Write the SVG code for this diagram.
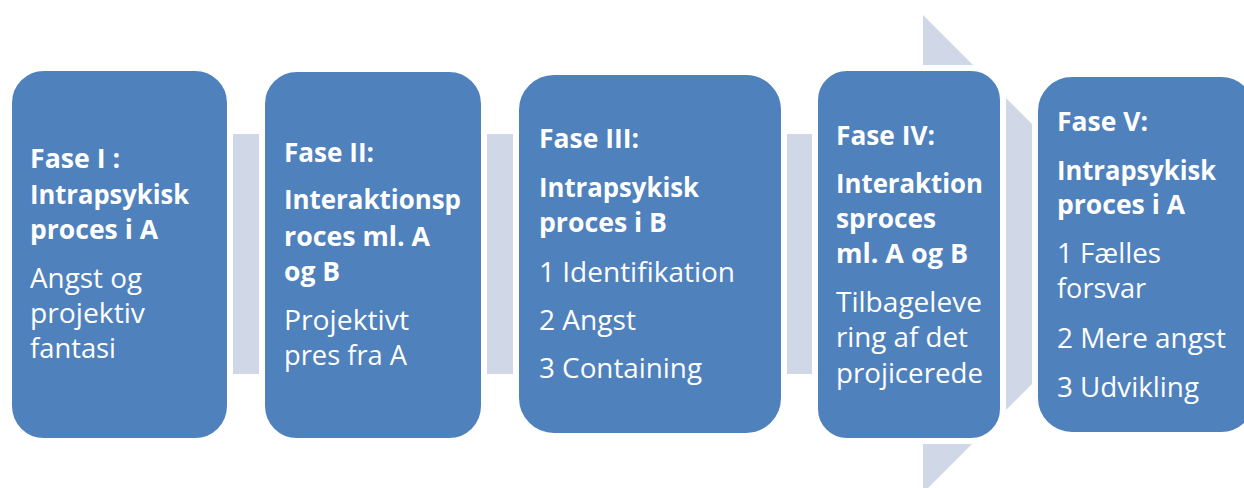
<svg xmlns="http://www.w3.org/2000/svg" width="1244" height="488" viewBox="0 0 1244 488">
<style>
.box{fill:#4F81BD;stroke:#FFFFFF;stroke-width:6}
.arrow{fill:#D0D8E8}
text{fill:#FFFFFF;font-family:"Open Sans","Liberation Sans",sans-serif}
.b{font-weight:bold;font-size:26px}
.r{font-weight:normal;font-size:28px}
</style>
<rect width="1244" height="488" fill="#FFFFFF"/>
<g id="connectors">
<polygon class="arrow" points="20,134 923,134 923,15 1162,254 923,493 923,374 20,374"/>
</g>
<g id="node1">
<rect class="box" x="9" y="68" width="221" height="373" rx="35"/>
<text class="b" x="30" y="168" textLength="90" lengthAdjust="spacingAndGlyphs">Fase I :</text>
<text class="b" x="30" y="204" textLength="159" lengthAdjust="spacingAndGlyphs">Intrapsykisk</text>
<text class="b" x="30" y="239" textLength="128" lengthAdjust="spacingAndGlyphs">proces i A</text>
<text class="r" x="30" y="288" textLength="112" lengthAdjust="spacingAndGlyphs">Angst og</text>
<text class="r" x="30" y="323" textLength="115" lengthAdjust="spacingAndGlyphs">projektiv</text>
<text class="r" x="30" y="358" textLength="86" lengthAdjust="spacingAndGlyphs">fantasi</text>
</g>
<g id="node2">
<rect class="box" x="262" y="69" width="222" height="372" rx="35"/>
<text class="b" x="284" y="162" textLength="90" lengthAdjust="spacingAndGlyphs">Fase II:</text>
<text class="b" x="284" y="209" textLength="177" lengthAdjust="spacingAndGlyphs">Interaktionsp</text>
<text class="b" x="284" y="246" textLength="146" lengthAdjust="spacingAndGlyphs">roces ml. A</text>
<text class="b" x="284" y="281" textLength="56" lengthAdjust="spacingAndGlyphs">og B</text>
<text class="r" x="284" y="330" textLength="125" lengthAdjust="spacingAndGlyphs">Projektivt</text>
<text class="r" x="284" y="365" textLength="123" lengthAdjust="spacingAndGlyphs">pres fra A</text>
</g>
<g id="node3">
<rect class="box" x="516" y="72" width="268" height="364" rx="38"/>
<text class="b" x="539" y="148" textLength="100" lengthAdjust="spacingAndGlyphs">Fase III:</text>
<text class="b" x="539" y="197" textLength="160" lengthAdjust="spacingAndGlyphs">Intrapsykisk</text>
<text class="b" x="539" y="232" textLength="128" lengthAdjust="spacingAndGlyphs">proces i B</text>
<text class="r" x="539" y="282" textLength="196" lengthAdjust="spacingAndGlyphs">1 Identifikation</text>
<text class="r" x="539" y="330" textLength="97" lengthAdjust="spacingAndGlyphs">2 Angst</text>
<text class="r" x="539" y="378" textLength="163" lengthAdjust="spacingAndGlyphs">3 Containing</text>
</g>
<g id="node4">
<rect class="box" x="815" y="68" width="188" height="373" rx="32"/>
<text class="b" x="836" y="145" textLength="99" lengthAdjust="spacingAndGlyphs">Fase IV:</text>
<text class="b" x="836" y="193" textLength="147" lengthAdjust="spacingAndGlyphs">Interaktion</text>
<text class="b" x="836" y="228" textLength="100" lengthAdjust="spacingAndGlyphs">sproces</text>
<text class="b" x="836" y="263" textLength="132" lengthAdjust="spacingAndGlyphs">ml. A og B</text>
<text class="r" x="836" y="312" textLength="146" lengthAdjust="spacingAndGlyphs">Tilbageleve</text>
<text class="r" x="836" y="347" textLength="132" lengthAdjust="spacingAndGlyphs">ring af det</text>
<text class="r" x="836" y="383" textLength="147" lengthAdjust="spacingAndGlyphs">projicerede</text>
</g>
<g id="node5">
<rect class="box" x="1035" y="74" width="223" height="361" rx="37"/>
<text class="b" x="1057" y="131" textLength="91" lengthAdjust="spacingAndGlyphs">Fase V:</text>
<text class="b" x="1057" y="180" textLength="159" lengthAdjust="spacingAndGlyphs">Intrapsykisk</text>
<text class="b" x="1057" y="214" textLength="128" lengthAdjust="spacingAndGlyphs">proces i A</text>
<text class="r" x="1057" y="263" textLength="104" lengthAdjust="spacingAndGlyphs">1 Fælles</text>
<text class="r" x="1057" y="298" textLength="89" lengthAdjust="spacingAndGlyphs">forsvar</text>
<text class="r" x="1057" y="348" textLength="169" lengthAdjust="spacingAndGlyphs">2 Mere angst</text>
<text class="r" x="1057" y="397" textLength="142" lengthAdjust="spacingAndGlyphs">3 Udvikling</text>
</g>
</svg>
